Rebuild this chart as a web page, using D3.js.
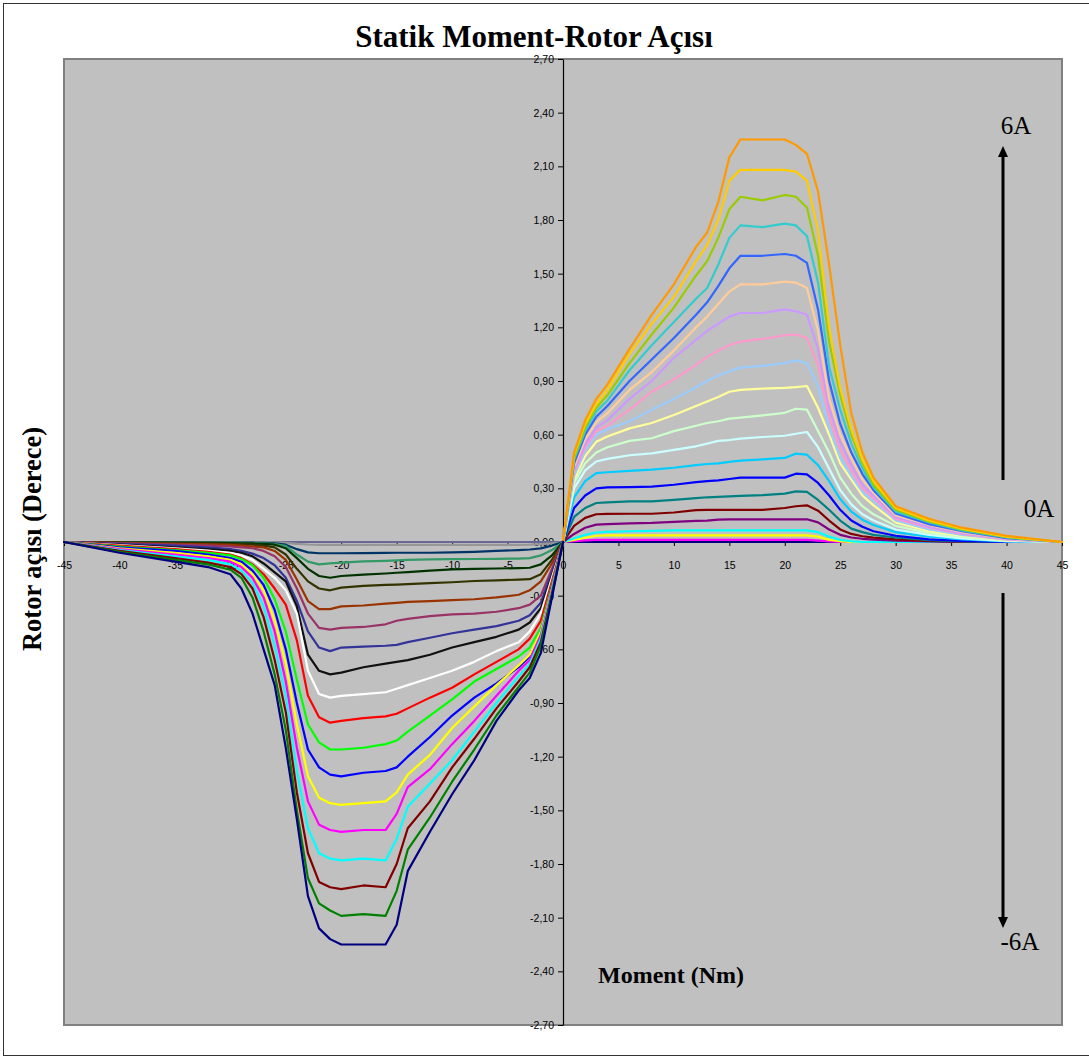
<!DOCTYPE html>
<html><head><meta charset="utf-8">
<script src="https://cdn.jsdelivr.net/npm/d3@7"></script>
<style>body{margin:0;background:#fff}svg{display:block}</style>
</head><body>
<svg id="chart" width="1089" height="1057"></svg>
<script>
// ---------- DATA ----------
const xTicks = [-45,-40,-35,-30,-25,-20,-15,-10,-5,0,5,10,15,20,25,30,35,40,45];
const yTicks = [-2.7,-2.4,-2.1,-1.8,-1.5,-1.2,-0.9,-0.6,-0.3,0,0.3,0.6,0.9,1.2,1.5,1.8,2.1,2.4,2.7];

// moment values (Nm) of the samples
const xPos = [0,1,2,3,4,6,8,10,12,13,14,15,16,18,20,21,22,23,24,25,26,27,28,30,33,36,40,45];
const xNeg = [-45,-40,-35,-32,-30,-29,-28,-27,-26,-25,-24,-23,-22,-21,-20,-18,-16,-15,-14,-12,-10,-8,-6,-4,-3,-2,-1,0];

// positive currents 0A .. 6A (rotor angle, degrees)
const p00 = [0,0,0,0,0,0,0,0,0,0,0,0,0,0,0,0,0,0,0,0,0,0,0,0,0,0,0,0];
const p03 = [0,0.005,0.009,0.012,0.012,0.012,0.012,0.012,0.012,0.012,0.012,0.012,0.012,0.012,0.012,0.012,0.012,0.008,0.003,0,0,0,0,0,0,0,0,0];
const p06 = [0,0.012,0.024,0.035,0.037,0.037,0.037,0.037,0.037,0.037,0.037,0.037,0.037,0.037,0.037,0.037,0.037,0.03,0.012,0.004,0,0,0,0,0,0,0,0];
const p09 = [0,0.02,0.04,0.053,0.057,0.06,0.062,0.065,0.065,0.065,0.065,0.065,0.065,0.065,0.065,0.065,0.065,0.055,0.03,0.012,0.004,0,0,0,0,0,0,0];
const p12 = [0,0.045,0.08,0.097,0.1,0.104,0.107,0.113,0.118,0.12,0.125,0.127,0.127,0.127,0.127,0.127,0.127,0.11,0.07,0.04,0.025,0.018,0.013,0.008,0.003,0,0,0];
const p15 = [0,0.09,0.135,0.155,0.157,0.158,0.158,0.165,0.178,0.18,0.18,0.18,0.18,0.18,0.19,0.2,0.205,0.175,0.12,0.07,0.045,0.032,0.024,0.015,0.006,0.002,0,0];
const p18 = [0,0.14,0.19,0.218,0.222,0.227,0.227,0.235,0.245,0.25,0.252,0.255,0.258,0.262,0.27,0.283,0.28,0.235,0.18,0.12,0.075,0.055,0.04,0.025,0.01,0.004,0,0];
const p21 = [0,0.19,0.26,0.3,0.305,0.307,0.31,0.32,0.335,0.34,0.345,0.352,0.36,0.36,0.36,0.382,0.378,0.33,0.26,0.18,0.12,0.085,0.06,0.035,0.015,0.006,0,0];
const p24 = [0,0.25,0.34,0.385,0.39,0.398,0.405,0.415,0.43,0.436,0.44,0.448,0.455,0.462,0.47,0.494,0.488,0.43,0.34,0.24,0.17,0.125,0.095,0.055,0.03,0.014,0.003,0];
const p27 = [0,0.3,0.4,0.45,0.465,0.485,0.495,0.515,0.535,0.55,0.565,0.57,0.578,0.587,0.594,0.605,0.615,0.53,0.41,0.29,0.21,0.155,0.12,0.07,0.04,0.02,0.005,0];
const p30 = [0,0.33,0.44,0.5,0.53,0.565,0.58,0.62,0.65,0.665,0.675,0.69,0.695,0.708,0.722,0.745,0.74,0.62,0.5,0.36,0.27,0.2,0.155,0.09,0.05,0.028,0.008,0];
const p33 = [0,0.35,0.48,0.56,0.59,0.635,0.665,0.71,0.76,0.785,0.81,0.84,0.85,0.857,0.862,0.866,0.872,0.75,0.6,0.44,0.35,0.26,0.205,0.11,0.06,0.035,0.01,0];
const p36 = [0,0.37,0.51,0.6,0.63,0.675,0.74,0.8,0.865,0.9,0.93,0.955,0.975,0.985,1.0,1.015,1.0,0.87,0.64,0.47,0.37,0.28,0.23,0.12,0.07,0.04,0.013,0];
const p39 = [0,0.39,0.53,0.62,0.65,0.74,0.84,0.91,0.99,1.035,1.07,1.1,1.12,1.135,1.155,1.16,1.14,0.99,0.7,0.52,0.4,0.3,0.245,0.13,0.08,0.045,0.015,0];
const p42 = [0,0.4,0.55,0.64,0.68,0.8,0.9,1.03,1.13,1.18,1.22,1.26,1.28,1.28,1.3,1.29,1.27,1.08,0.75,0.56,0.43,0.32,0.26,0.14,0.085,0.05,0.018,0];
const p45 = [0,0.42,0.575,0.67,0.72,0.85,0.95,1.07,1.2,1.26,1.33,1.4,1.44,1.44,1.455,1.45,1.42,1.18,0.8,0.6,0.47,0.35,0.275,0.15,0.095,0.055,0.02,0];
const p48 = [0,0.44,0.6,0.7,0.76,0.9,1.02,1.14,1.27,1.34,1.43,1.53,1.6,1.6,1.61,1.6,1.56,1.3,0.9,0.66,0.5,0.38,0.29,0.16,0.1,0.06,0.022,0];
const p51 = [0,0.46,0.62,0.73,0.79,0.96,1.1,1.23,1.36,1.42,1.55,1.7,1.77,1.76,1.78,1.77,1.71,1.45,0.98,0.74,0.55,0.41,0.305,0.17,0.11,0.065,0.025,0];
const p54 = [0,0.47,0.64,0.75,0.82,1.0,1.16,1.31,1.49,1.57,1.7,1.86,1.93,1.91,1.94,1.93,1.87,1.6,1.12,0.82,0.6,0.44,0.32,0.18,0.115,0.07,0.028,0];
const p57 = [0,0.49,0.66,0.77,0.85,1.05,1.22,1.37,1.57,1.66,1.8,2.02,2.08,2.08,2.08,2.07,2.02,1.74,1.2,0.86,0.63,0.46,0.34,0.19,0.12,0.075,0.03,0];
const p60 = [0,0.5,0.68,0.8,0.88,1.08,1.27,1.44,1.65,1.73,1.9,2.15,2.25,2.25,2.25,2.22,2.17,1.96,1.55,1.1,0.72,0.5,0.36,0.2,0.13,0.08,0.035,0];

// negative currents 0A .. -6A
const n00 = [0,0,0,0,0,0,0,0,0,0,0,0,0,0,0,0,0,0,0,0,0,0,0,0,0,0,0,0];
const n03 = [0,0,0,0,0,0,0,0,0,0,0,0,0,0,0,0,0,0,0,0,0,0,0,0,0,0,0,0];
const n06 = [0,0,0,0,0,0,0,0,-0.002,-0.005,-0.01,-0.014,-0.016,-0.016,-0.016,-0.016,-0.016,-0.016,-0.016,-0.016,-0.016,-0.016,-0.016,-0.016,-0.015,-0.012,-0.007,0];
const n09 = [0,0,-0.001,-0.002,-0.003,-0.003,-0.004,-0.005,-0.008,-0.015,-0.04,-0.058,-0.063,-0.063,-0.063,-0.062,-0.061,-0.06,-0.06,-0.06,-0.058,-0.055,-0.05,-0.045,-0.042,-0.036,-0.02,0];
const n12 = [0,-0.001,-0.002,-0.003,-0.004,-0.005,-0.006,-0.008,-0.012,-0.022,-0.07,-0.11,-0.125,-0.12,-0.115,-0.108,-0.105,-0.103,-0.1,-0.097,-0.096,-0.095,-0.094,-0.093,-0.09,-0.075,-0.045,0];
const n15 = [0,-0.002,-0.004,-0.005,-0.006,-0.007,-0.008,-0.01,-0.015,-0.035,-0.09,-0.15,-0.19,-0.2,-0.19,-0.182,-0.176,-0.172,-0.168,-0.16,-0.153,-0.15,-0.148,-0.146,-0.144,-0.125,-0.075,0];
const n18 = [0,-0.003,-0.006,-0.008,-0.01,-0.012,-0.015,-0.02,-0.03,-0.07,-0.15,-0.22,-0.26,-0.27,-0.255,-0.245,-0.24,-0.238,-0.235,-0.23,-0.225,-0.218,-0.215,-0.21,-0.208,-0.18,-0.1,0];
const n21 = [0,-0.005,-0.01,-0.013,-0.016,-0.02,-0.025,-0.03,-0.05,-0.1,-0.21,-0.33,-0.375,-0.375,-0.36,-0.355,-0.345,-0.34,-0.335,-0.33,-0.325,-0.32,-0.31,-0.295,-0.27,-0.22,-0.12,0];
const n24 = [0,-0.008,-0.015,-0.02,-0.025,-0.03,-0.035,-0.05,-0.08,-0.14,-0.26,-0.4,-0.48,-0.49,-0.48,-0.475,-0.46,-0.44,-0.43,-0.414,-0.405,-0.4,-0.39,-0.37,-0.35,-0.3,-0.15,0];
const n27 = [0,-0.01,-0.02,-0.03,-0.04,-0.05,-0.065,-0.09,-0.13,-0.2,-0.33,-0.5,-0.59,-0.61,-0.59,-0.585,-0.58,-0.575,-0.56,-0.535,-0.51,-0.49,-0.47,-0.44,-0.41,-0.34,-0.17,0];
const n30 = [0,-0.015,-0.03,-0.04,-0.05,-0.06,-0.08,-0.12,-0.17,-0.22,-0.36,-0.63,-0.72,-0.74,-0.73,-0.7,-0.68,-0.67,-0.66,-0.63,-0.59,-0.56,-0.53,-0.49,-0.45,-0.37,-0.19,0];
const n33 = [0,-0.018,-0.035,-0.048,-0.06,-0.075,-0.1,-0.15,-0.2,-0.27,-0.4,-0.72,-0.85,-0.87,-0.86,-0.85,-0.84,-0.82,-0.8,-0.76,-0.72,-0.67,-0.61,-0.56,-0.5,-0.4,-0.2,0];
const n36 = [0,-0.02,-0.04,-0.055,-0.07,-0.09,-0.125,-0.18,-0.26,-0.35,-0.55,-0.86,-0.98,-1.01,-1.0,-0.985,-0.975,-0.96,-0.93,-0.87,-0.815,-0.74,-0.67,-0.6,-0.54,-0.44,-0.22,0];
const n39 = [0,-0.025,-0.045,-0.06,-0.075,-0.095,-0.13,-0.2,-0.32,-0.5,-0.77,-1.02,-1.12,-1.16,-1.16,-1.15,-1.13,-1.11,-1.06,-0.97,-0.88,-0.78,-0.71,-0.64,-0.59,-0.48,-0.24,0];
const n42 = [0,-0.03,-0.05,-0.07,-0.09,-0.11,-0.16,-0.24,-0.38,-0.6,-0.9,-1.16,-1.26,-1.3,-1.31,-1.29,-1.28,-1.26,-1.2,-1.09,-0.97,-0.87,-0.79,-0.7,-0.64,-0.5,-0.25,0];
const n45 = [0,-0.035,-0.06,-0.08,-0.1,-0.125,-0.18,-0.27,-0.44,-0.68,-1.02,-1.31,-1.43,-1.46,-1.47,-1.46,-1.45,-1.4,-1.3,-1.19,-1.04,-0.92,-0.8,-0.69,-0.63,-0.5,-0.26,0];
const n48 = [0,-0.04,-0.07,-0.09,-0.11,-0.14,-0.2,-0.31,-0.5,-0.78,-1.15,-1.45,-1.58,-1.61,-1.62,-1.61,-1.61,-1.52,-1.37,-1.27,-1.13,-1.0,-0.86,-0.72,-0.66,-0.52,-0.27,0];
const n51 = [0,-0.045,-0.08,-0.1,-0.125,-0.16,-0.23,-0.36,-0.58,-0.86,-1.28,-1.6,-1.74,-1.77,-1.78,-1.77,-1.78,-1.66,-1.48,-1.35,-1.22,-1.06,-0.9,-0.75,-0.68,-0.54,-0.28,0];
const n54 = [0,-0.05,-0.09,-0.115,-0.14,-0.18,-0.26,-0.42,-0.66,-0.95,-1.4,-1.74,-1.9,-1.93,-1.94,-1.92,-1.93,-1.8,-1.6,-1.45,-1.26,-1.1,-0.93,-0.78,-0.7,-0.56,-0.29,0];
const n57 = [0,-0.055,-0.1,-0.125,-0.155,-0.2,-0.31,-0.5,-0.74,-1.05,-1.5,-1.88,-2.02,-2.06,-2.09,-2.08,-2.09,-1.95,-1.72,-1.54,-1.34,-1.16,-0.97,-0.81,-0.73,-0.58,-0.3,0];
const n60 = [0,-0.06,-0.11,-0.14,-0.18,-0.26,-0.4,-0.6,-0.8,-1.15,-1.55,-1.98,-2.16,-2.22,-2.25,-2.25,-2.25,-2.14,-1.84,-1.62,-1.41,-1.22,-1.0,-0.83,-0.76,-0.62,-0.31,0];

const posSeries = [p00,p03,p06,p09,p12,p15,p18,p21,p24,p27,p30,p33,p36,p39,p42,p45,p48,p51,p54,p57,p60];
const posColors = ["#000080","#FF00FF","#FFFF00","#00FFFF","#800080","#800000","#008080","#0000FF","#00CCFF","#CCFFFF","#CCFFCC","#FFFF99","#99CCFF","#FF99CC","#CC99FF","#FFCC99","#3366FF","#33CCCC","#99CC00","#FFCC00","#FF9900"];
const negSeries = [n00,n03,n06,n09,n12,n15,n18,n21,n24,n27,n30,n33,n36,n39,n42,n45,n48,n51,n54,n57,n60];
const negColors = ["#FF6600","#666699","#969696","#003366","#339966","#003300","#333300","#993300","#993366","#333399","#111111","#FFFFFF","#FF0000","#00FF00","#0000FF","#FFFF00","#FF00FF","#00FFFF","#800000","#008000","#000080"];

// ---------- DRAW ----------
const svg = d3.select("#chart");
const W = 1089, H = 1057;
const plot = {left: 64, right: 1062, top: 59, bottom: 1025};
const x = d3.scaleLinear().domain([-45, 45]).range([plot.left, plot.right]);
const y = d3.scaleLinear().domain([-2.7, 2.7]).range([plot.bottom, plot.top]);
const serif = "'Liberation Serif', 'Times New Roman', serif";

svg.append("rect").attr("x", 0).attr("y", 0).attr("width", W).attr("height", H).attr("fill", "#fff");
svg.append("rect").attr("x", 3.5).attr("y", 3.5).attr("width", 1095).attr("height", 1052)
  .attr("fill", "none").attr("stroke", "#333").attr("stroke-width", 1);

svg.append("rect").attr("x", plot.left).attr("y", plot.top)
  .attr("width", plot.right - plot.left).attr("height", plot.bottom - plot.top)
  .attr("fill", "#C0C0C0").attr("stroke", "#808080").attr("stroke-width", 2);

const fmt = d => (Math.abs(d) < 1e-9 ? 0 : d).toFixed(2).replace(".", ",");

const yAxis = svg.append("g").attr("transform", `translate(${x(0)},0)`)
  .call(d3.axisLeft(y).tickValues(yTicks).tickFormat(fmt).tickSize(5).tickSizeOuter(0).tickPadding(4));
const xAxis = svg.append("g").attr("transform", `translate(0,${y(0)})`)
  .call(d3.axisBottom(x).tickValues(xTicks).tickFormat(d => String(d)).tickSize(4).tickSizeOuter(0).tickPadding(16));
[xAxis, yAxis].forEach(g => {
  g.attr("font-family", "'Liberation Sans', Arial, sans-serif").attr("font-size", 10.5);
  g.select(".domain").attr("stroke", "#000").attr("stroke-width", 1.2);
  g.selectAll(".tick line").attr("stroke", "#000");
  g.selectAll(".tick text").attr("fill", "#000");
});

const line = d3.line().x(d => x(d[0])).y(d => y(d[1]));
const lines = svg.append("g").attr("fill", "none").attr("stroke-width", 2.2)
  .attr("stroke-linejoin", "round").attr("stroke-linecap", "round");
posSeries.forEach((s, i) => {
  lines.append("path").attr("d", line(xPos.map((v, j) => [v, s[j]]))).attr("stroke", posColors[i]);
});
negSeries.forEach((s, i) => {
  lines.append("path").attr("d", line(xNeg.map((v, j) => [v, s[j]]))).attr("stroke", negColors[i]);
});

// titles
svg.append("text").attr("x", 534).attr("y", 47).attr("text-anchor", "middle")
  .attr("font-family", serif).attr("font-weight", "bold")
  .attr("font-size", 31).text("Statik Moment-Rotor Açısı");
svg.append("text").attr("transform", "translate(41,539) rotate(-90)").attr("text-anchor", "middle")
  .attr("font-family", serif).attr("font-weight", "bold")
  .attr("font-size", 26.5).text("Rotor açısı (Derece)");
svg.append("text").attr("x", 671).attr("y", 983).attr("text-anchor", "middle")
  .attr("font-family", serif).attr("font-weight", "bold")
  .attr("font-size", 24).text("Moment (Nm)");

// annotations
svg.append("text").attr("x", 1016).attr("y", 134).attr("text-anchor", "middle").attr("font-family", serif).attr("font-size", 25).text("6A");
svg.append("text").attr("x", 1039).attr("y", 517).attr("text-anchor", "middle").attr("font-family", serif).attr("font-size", 25).text("0A");
svg.append("text").attr("x", 1020).attr("y", 950).attr("text-anchor", "middle").attr("font-family", serif).attr("font-size", 25).text("-6A");

const ax = 1003;
svg.append("line").attr("x1", ax).attr("x2", ax).attr("y1", 480).attr("y2", 155).attr("stroke", "#000").attr("stroke-width", 3);
svg.append("path").attr("d", `M${ax},146 L${ax-5},157 L${ax+5},157 Z`).attr("fill", "#000");
svg.append("line").attr("x1", ax).attr("x2", ax).attr("y1", 593).attr("y2", 918).attr("stroke", "#000").attr("stroke-width", 3);
svg.append("path").attr("d", `M${ax},928 L${ax-5},917 L${ax+5},917 Z`).attr("fill", "#000");
</script>
</body></html>
